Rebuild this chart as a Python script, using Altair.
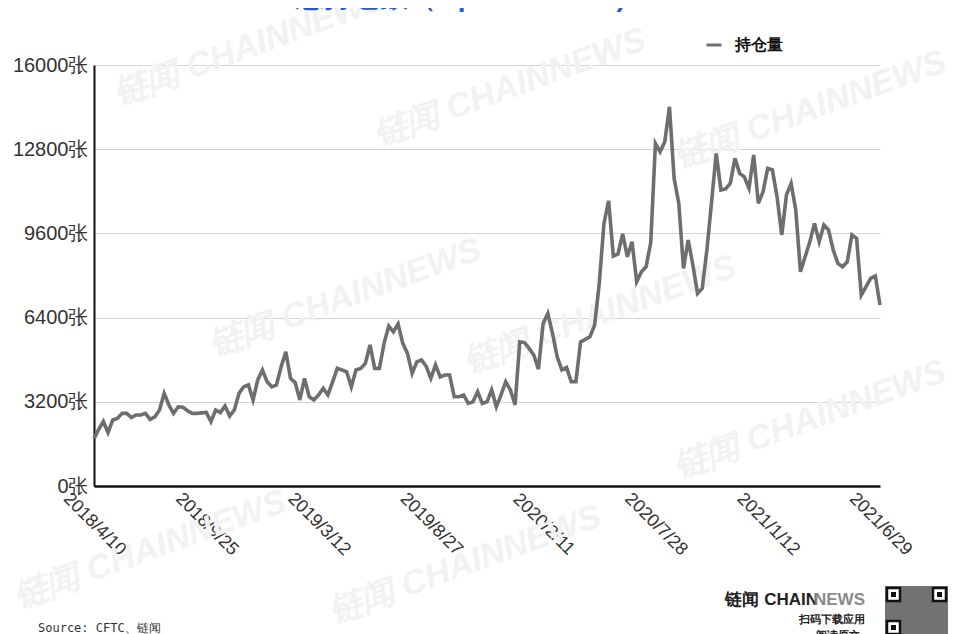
import altair as alt
import pandas as pd

# ---------------- data ----------------
dates = pd.date_range("2018-04-10", periods=169, freq="7D")
date_labels = [f"{d.year}/{d.month}/{d.day}" for d in dates]

open_interest = [
    1800, 2150, 2450, 2030, 2510, 2570, 2760, 2760, 2600, 2700,
    2700, 2760, 2530, 2630, 2890, 3520, 3080, 2760, 3010, 2990,
    2860, 2760, 2760, 2780, 2800, 2450, 2890, 2790, 3040, 2660,
    2890, 3520, 3770, 3840, 3270, 4030, 4410, 3960, 3770, 3840,
    4530, 5100, 4090, 3930, 3270, 4090, 3390, 3270, 3460, 3710,
    3460, 3960, 4470, 4410, 4340, 3770, 4410, 4470, 4660, 5360,
    4470, 4470, 5420, 6080, 5860, 6160, 5420, 5040, 4280, 4720,
    4790, 4550, 4090, 4600, 4150, 4220, 4220, 3390, 3390, 3460,
    3140, 3200, 3580, 3140, 3200, 3650, 3010, 3460, 3960, 3650,
    3080, 5480, 5450, 5230, 4980, 4440, 6180, 6560, 5800, 4910,
    4410, 4510, 3960, 3960, 5480, 5570, 5670, 6120, 7700, 9980,
    10840, 8740, 8820, 9580, 8710, 9280, 7760, 8140, 8330, 9250,
    13020, 12700, 13080, 14410, 11690, 10740, 8270, 9350, 8400, 7320,
    7510, 8970, 10800, 12640, 11250, 11290, 11500, 12450, 11880, 11750,
    11310, 12580, 10740, 11180, 12070, 12010, 10990, 9540, 11060, 11500,
    10490, 8140, 8710, 9280, 9980, 9280, 9920, 9730, 8970, 8460,
    8330, 8520, 9540, 9410, 7260, 7570, 7890, 7980, 6880,
]

tick_labels = ["2018/4/10", "2018/9/25", "2019/3/12", "2019/8/27",
               "2020/2/11", "2020/7/28", "2021/1/12", "2021/6/29"]
y_ticks = [0, 3200, 6400, 9600, 12800, 16000]
series_name = "持仓量"
title_text = "总持仓数（Open Interest)"
source_text = "Source: CFTC、链闻"
watermark = "链闻 CHAINNEWS"

df = pd.DataFrame({"date": date_labels, "oi": open_interest, "series": series_name})

FONT = "Liberation Sans"
W, H = 786, 421

# ---------------- watermarks (decoration, positions relative to plot origin) ----------------
wm_pos = [(156, -18), (416, 23), (716, 45), (251, 233), (506, 250),
          (716, 355), (56, 485), (371, 500)]
wm_layers = [
    alt.Chart(pd.DataFrame({"t": [watermark]})).mark_text(
        fontSize=34, fontWeight="bold", fontStyle="italic", font=FONT,
        color="#f2f2f2", angle=340, align="center", baseline="middle"
    ).encode(x=alt.value(px), y=alt.value(py), text="t:N")
    for px, py in wm_pos
]

# ---------------- main line ----------------
line = alt.Chart(df).mark_line(strokeWidth=3.6, strokeJoin="miter").encode(
    x=alt.X(
        "date:O", sort=None,
        scale=alt.Scale(type="point", padding=0),
        axis=alt.Axis(
            values=tick_labels, title=None, labelAngle=45, labelAlign="center",
            labelBaseline="middle", labelPadding=38, labelOverlap=False,
            ticks=False, grid=False, domainColor="#111111", domainWidth=2.5,
            labelFont=FONT, labelFontSize=18, labelColor="#333333",
        ),
    ),
    y=alt.Y(
        "oi:Q",
        scale=alt.Scale(domain=[0, 16000], nice=False),
        axis=alt.Axis(
            values=y_ticks, labelExpr="datum.value + '张'", title=None,
            ticks=False, domainColor="#111111", domainWidth=2,
            gridColor="#d4d4d4", gridWidth=1, labelPadding=6,
            labelFont=FONT, labelFontSize=20, labelColor="#333333",
        ),
    ),
    color=alt.Color(
        "series:N",
        scale=alt.Scale(range=["#6e6e6e"]),
        legend=alt.Legend(
            orient="none", legendX=611, legendY=-29, title=None,
            symbolType="stroke", symbolSize=225, symbolStrokeWidth=3,
            labelFont=FONT, labelFontSize=16, labelFontWeight="bold",
            labelColor="#111111", labelOffset=12, padding=0,
        ),
    ),
)


def txt(s, x, y, **kw):
    return alt.Chart(pd.DataFrame({"t": [s]})).mark_text(**kw).encode(
        x=alt.value(x), y=alt.value(y), text="t:N")


title = txt(title_text, 367, -59, fontSize=28, fontWeight="bold", font=FONT,
            color="#1b5fcf", align="center", baseline="alphabetic")
source = txt(source_text, -56, 563, fontSize=12, font="DejaVu Sans Mono",
             color="#333333", align="left", baseline="middle")
brand1 = txt("链闻 CHAIN", 724, 535, fontSize=17, fontWeight="bold", font=FONT,
             color="#222222", align="right", baseline="middle")
brand2 = txt("NEWS", 771, 535, fontSize=17, fontWeight="bold", font=FONT,
             color="#8a8a8a", align="right", baseline="middle")
scan = txt("扫码下载应用", 771, 555, fontSize=11, fontWeight="bold", font=FONT,
           color="#222222", align="right", baseline="middle")
read = txt("阅读原文", 766, 571, fontSize=11, fontWeight="bold", font=FONT,
           color="#222222", align="right", baseline="middle")


def box(x1, x2, y1, y2, **kw):
    return alt.Chart(pd.DataFrame({"a": [0]})).mark_rect(**kw).encode(
        x=alt.value(x1), x2=alt.value(x2), y=alt.value(y1), y2=alt.value(y2))


qr = [
    box(791, 854, 521, 578, color="#727272"),
    box(793, 806, 523, 536, color="#ffffff", stroke="#111111", strokeWidth=2.5),
    box(797, 802, 527, 532, color="#111111"),
    box(839, 852, 523, 536, color="#ffffff", stroke="#111111", strokeWidth=2.5),
    box(843, 848, 527, 532, color="#111111"),
    box(793, 806, 556, 569, color="#ffffff", stroke="#111111", strokeWidth=2.5),
    box(797, 802, 560, 565, color="#111111"),
]

chart = alt.layer(
    *wm_layers, line, title, source, brand1, brand2, scan, read, *qr
).properties(
    width=W, height=H,
    autosize=alt.AutoSizeParams(type="none"),
    padding={"left": 86, "top": 57, "right": 72, "bottom": 152},
    background="#ffffff",
).configure_view(stroke=None)

chart.save("out.html", embed_options={"renderer": "svg", "actions": False})
